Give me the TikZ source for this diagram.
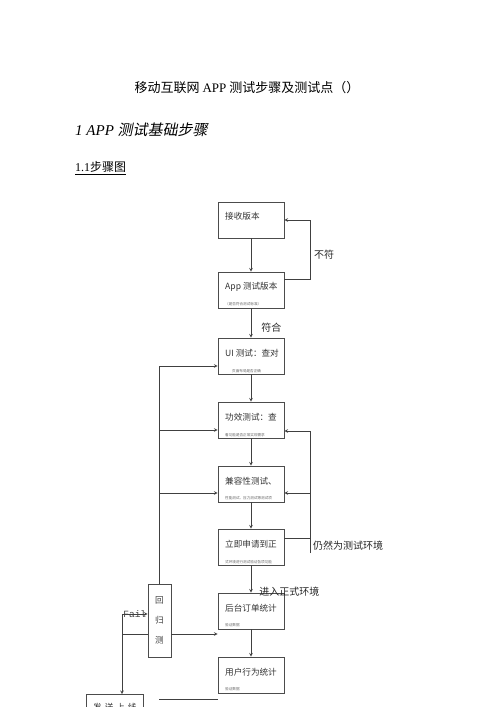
\documentclass[tikz,border=0pt]{standalone}
\usepackage{fontspec}
\setmainfont{Liberation Serif}
\newfontfamily\cjk{Noto Sans CJK SC}
\newfontfamily\cjkslant{Noto Sans CJK SC}[FakeSlant=0.2]
\newfontfamily\failfont{Liberation Mono}
\usetikzlibrary{positioning}

\begin{document}
\begin{tikzpicture}[x=1pt, y=-1pt,
    stepbox/.style={draw=black!70, line width=0.8pt, minimum width=66pt, minimum height=36pt, inner sep=0pt},
    steptext/.style={anchor=west, inner sep=0pt, font=\cjk\fontsize{8.6}{10}\selectfont, text=black!80},
    stepnote/.style={anchor=west, inner sep=0pt, font=\cjk\fontsize{3.6}{4}\selectfont, text=black!60},
    flowlabel/.style={inner sep=0pt, font=\cjk\fontsize{10}{12}\selectfont, text=black!85},
    link/.style={draw=black!75, line width=0.6pt}]
    \useasboundingbox (0,0) rectangle (500,707);
    \fill[white] (0,0) rectangle (500,707);
    \clip (0,0) rectangle (500,707);

    % headings
    \node[font=\cjk\fontsize{13}{15}\selectfont] (title) at (247,88) {移动互联网 {\rmfamily APP} 测试步骤及测试点（）};
    \node[anchor=west, inner sep=0pt, font=\fontsize{15}{17}\selectfont\itshape] (heading) at (75,130) {1 APP {\cjkslant 测试基础步骤}};
    \node[anchor=west, inner sep=0pt, font=\fontsize{12}{14}\selectfont] (subhead) at (75,168) {\underline{1.1{\cjk 步骤图}}};

    % main column
    \node[stepbox] (recv) at (251,220) {};
    \node[stepbox] (app) at (251,290) {};
    \node[stepbox] (ui) at (251,356) {};
    \node[stepbox] (func) at (251,420) {};
    \node[stepbox] (compat) at (251,484) {};
    \node[stepbox] (apply) at (251,547) {};
    \node[stepbox] (order) at (251,611) {};
    \node[stepbox] (user) at (251,675) {};

    \node[steptext] (recv-t) at (225,216) {接收版本};
    \node[steptext] (app-t) at (225,287) {App 测试版本};
    \node[stepnote] (app-n) at (225,304) {（是否符合测试标准）};
    \node[steptext] (ui-t) at (225,353) {UI 测试：查对};
    \node[stepnote] (ui-n) at (232,371) {页面布局是否正确};
    \node[steptext] (func-t) at (225,417) {功效测试：查};
    \node[stepnote] (func-n) at (225,435) {看功能是否正常实现需求};
    \node[steptext] (compat-t) at (225,481) {兼容性测试、};
    \node[stepnote] (compat-n) at (225,498) {性能测试、压力测试等测试项};
    \node[steptext] (apply-t) at (225,544) {立即申请到正};
    \node[stepnote] (apply-n) at (225,562) {式环境进行测试验证各项功能};
    \node[steptext] (order-t) at (225,608) {后台订单统计};
    \node[stepnote] (order-n) at (225,625) {验证数据};
    \node[steptext] (user-t) at (225,672) {用户行为统计};
    \node[stepnote] (user-n) at (225,689) {验证数据};

    \draw[link, -stealth] (recv) -- (app);
    \draw[link, -stealth] (app) -- node[flowlabel, anchor=west, pos=0.65, xshift=10pt] {符合} (ui);
    \draw[link, -stealth] (ui) -- (func);
    \draw[link, -stealth] (func) -- (compat);
    \draw[link, -stealth] (compat) -- (apply);
    \draw[link, -stealth] (apply) -- node[flowlabel, anchor=west, pos=0.95, xshift=8pt] {进入正式环境} (order);
    \draw[link, -stealth] (order) -- (user);

    % back to receiving
    \coordinate (backtop) at (310,220);
    \draw[link, -stealth] ([yshift=11pt]app.east) -| (backtop) -- (recv.east);
    \node[flowlabel] (mismatch) at (324,255) {不符};

    % still test environment
    \coordinate (envtop) at (310,431);
    \coordinate (envmid) at (310,493);
    \coordinate (envbot) at (310,553);
    \draw[link] ([yshift=9pt]apply.east) -- ([yshift=9pt]apply.east -| envbot);
    \draw[link] (envbot) -- (envtop);
    \draw[link, -stealth] (envtop) -- (func.east |- envtop);
    \draw[link, -stealth] (envmid) -- (compat.east |- envmid);
    \node[flowlabel, anchor=west] (testenv) at (313,546) {仍然为测试环境};

    % regression
    \node[stepbox, minimum width=23pt, minimum height=73pt, align=center, text=black!75,
          font=\cjk\fontsize{8.6}{20}\selectfont] (retest) at (159.5,620.5) {回\\归\\测};
    \coordinate (loopup) at (159.5,366);
    \coordinate (loopmid) at (159.5,430);
    \coordinate (loopbot) at (159.5,493);
    \draw[link] (retest.north) -- (loopup);
    \draw[link, -stealth] (loopup) -- (ui.west |- loopup);
    \draw[link, -stealth] (loopmid) -- (func.west |- loopmid);
    \draw[link, -stealth] (loopbot) -- (compat.west |- loopbot);
    \coordinate (retestout) at (171,634);
    \draw[link, -stealth] (retestout) -- (order.west |- retestout);

    % fail branch
    \node[stepbox, minimum width=57pt, minimum height=40pt] (release) at (114.5,714.5) {};
    \node[steptext] (release-t) at (93,707) {发\hspace{3pt}送\hspace{3pt}上\hspace{3pt}线};
    \coordinate (failtop) at (122,614);
    \coordinate (failjoin) at (122,634);
    \draw[link, -stealth] (failtop) -- node[inner sep=0pt, font=\failfont\fontsize{9.5}{11}\selectfont, text=black!75] {Fail} (retest.west |- failtop);
    \draw[link] (retest.west |- failjoin) -- (failjoin);
    \draw[link, -stealth] (failtop) -- (release.north -| failtop);

    \coordinate (baseleft) at (159,699);
    \coordinate (baseright) at (218,699);
    \draw[link] (baseleft) -- (baseright);
\end{tikzpicture}
\end{document}
